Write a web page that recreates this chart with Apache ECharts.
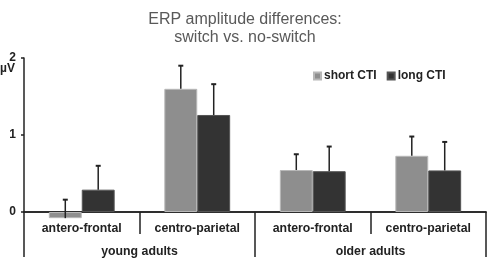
<!DOCTYPE html>
<html lang="en">
<head>
  <meta charset="utf-8">
  <style>
    html, body { margin: 0; padding: 0; width: 100%; height: 100%; overflow: hidden; background: #fff; }
    #container { width: 490px; height: 262px; }
  </style>
  <script src="https://cdn.jsdelivr.net/npm/echarts@6.0.0/dist/echarts.min.js"></script>
</head>
<body>
  <div id="container"></div>
  <script>
    // values
    var sites = ['antero-frontal', 'centro-parietal', 'antero-frontal', 'centro-parietal'];
    var groups = ['young adults', 'older adults'];
    var shortCTI = [-0.08, 1.60, 0.545, 0.73];
    var shortErr = [0.24, 0.30, 0.205, 0.25];
    var longCTI = [0.29, 1.26, 0.53, 0.54];
    var longErr = [0.31, 0.40, 0.32, 0.37];

    var font = 'Arial, "Liberation Sans", sans-serif';
    var ink = '#222';
    var barFrac = 0.285;

    var dom = document.getElementById('container');
    var myChart = echarts.init(dom, null, { renderer: 'canvas' });

    function errData(vals, errs) {
      return vals.map(function (v, i) { return [i, v, errs[i]]; });
    }

    // upward error bar with a small cap, placed over its bar
    function errSeries(name, vals, errs, side) {
      return {
        name: name + ' err',
        type: 'custom',
        xAxisIndex: 0,
        yAxisIndex: 0,
        data: errData(vals, errs),
        encode: { x: 0, y: 1 },
        clip: false,
        z: 5,
        silent: true,
        renderItem: function (params, api) {
          var i = api.value(0), v = api.value(1), e = api.value(2);
          var bw = api.size([1, 0])[0] * barFrac;
          var p0 = api.coord([i, v]);
          var p1 = api.coord([i, v + e]);
          var x = p0[0] + side * bw / 2;
          return {
            type: 'group',
            children: [
              { type: 'line', shape: { x1: x, y1: p0[1], x2: x, y2: p1[1] }, style: { stroke: ink, lineWidth: 1.5 } },
              { type: 'line', shape: { x1: x - 2.5, y1: p1[1], x2: x + 2.5, y2: p1[1] }, style: { stroke: ink, lineWidth: 2 } }
            ]
          };
        }
      };
    }

    var option = {
      animation: false,
      title: {
        text: 'ERP amplitude differences:\nswitch vs. no-switch',
        left: 'center',
        top: 6,
        textStyle: { fontFamily: font, fontSize: 16, fontWeight: 'normal', color: '#595959', lineHeight: 18 }
      },
      legend: {
        data: ['short CTI', 'long CTI'],
        left: 308,
        top: 65,
        icon: 'rect',
        itemWidth: 7,
        itemHeight: 7,
        itemGap: 10,
        textStyle: { fontFamily: font, fontSize: 12, fontWeight: 'bold', color: ink, padding: [0, 0, 0, -2] }
      },
      grid: { left: 24, right: 4, top: 58, bottom: 50, containLabel: false, outerBoundsMode: 'none' },
      xAxis: [{
        type: 'category',
        data: sites,
        position: 'bottom',
        axisLine: { show: true, lineStyle: { color: ink, width: 1.5 } },
        axisTick: { show: true, length: 22, lineStyle: { color: ink, width: 1.5 } },
        axisLabel: { show: true, interval: 0, margin: 11, fontFamily: font, fontSize: 12.3, fontWeight: 'bold', color: ink }
      }, {
        type: 'category',
        data: groups,
        position: 'bottom',
        axisLine: { show: true, lineStyle: { color: ink, width: 1.5 } },
        axisTick: { show: true, length: 45, lineStyle: { color: ink, width: 1.5 } },
        axisLabel: { show: true, interval: 0, margin: 34, fontFamily: font, fontSize: 12.3, fontWeight: 'bold', color: ink }
      }],
      yAxis: {
        type: 'value',
        min: 0,
        max: 2,
        interval: 1,
        name: 'µV',
        nameLocation: 'end',
        nameGap: -5,
        nameMoveOverlap: false,
        nameTextStyle: { fontFamily: font, fontSize: 12, fontWeight: 'bold', color: ink, align: 'right', verticalAlign: 'top', padding: [0, 9, 0, 0] },
        splitLine: { show: false },
        axisLine: { show: true, lineStyle: { color: ink, width: 1.5 } },
        axisTick: { show: true, length: 3, lineStyle: { color: ink, width: 1.5 } },
        axisLabel: { margin: 8, fontFamily: font, fontSize: 12, fontWeight: 'bold', color: ink }
      },
      series: [{
        name: 'short CTI',
        type: 'bar',
        data: shortCTI,
        clip: false,
        barWidth: (barFrac * 100) + '%',
        barGap: '0%',
        itemStyle: { color: '#8e8e8e', borderColor: '#b8b8b8', borderWidth: 1 }
      }, {
        name: 'long CTI',
        type: 'bar',
        data: longCTI,
        clip: false,
        barWidth: (barFrac * 100) + '%',
        barGap: '0%',
        itemStyle: { color: '#333333', borderColor: '#555555', borderWidth: 1 }
      },
      errSeries('short CTI', shortCTI, shortErr, -1),
      errSeries('long CTI', longCTI, longErr, 1)
      ]
    };

    myChart.setOption(option);
    window.addEventListener('resize', myChart.resize);
  </script>
</body>
</html>
